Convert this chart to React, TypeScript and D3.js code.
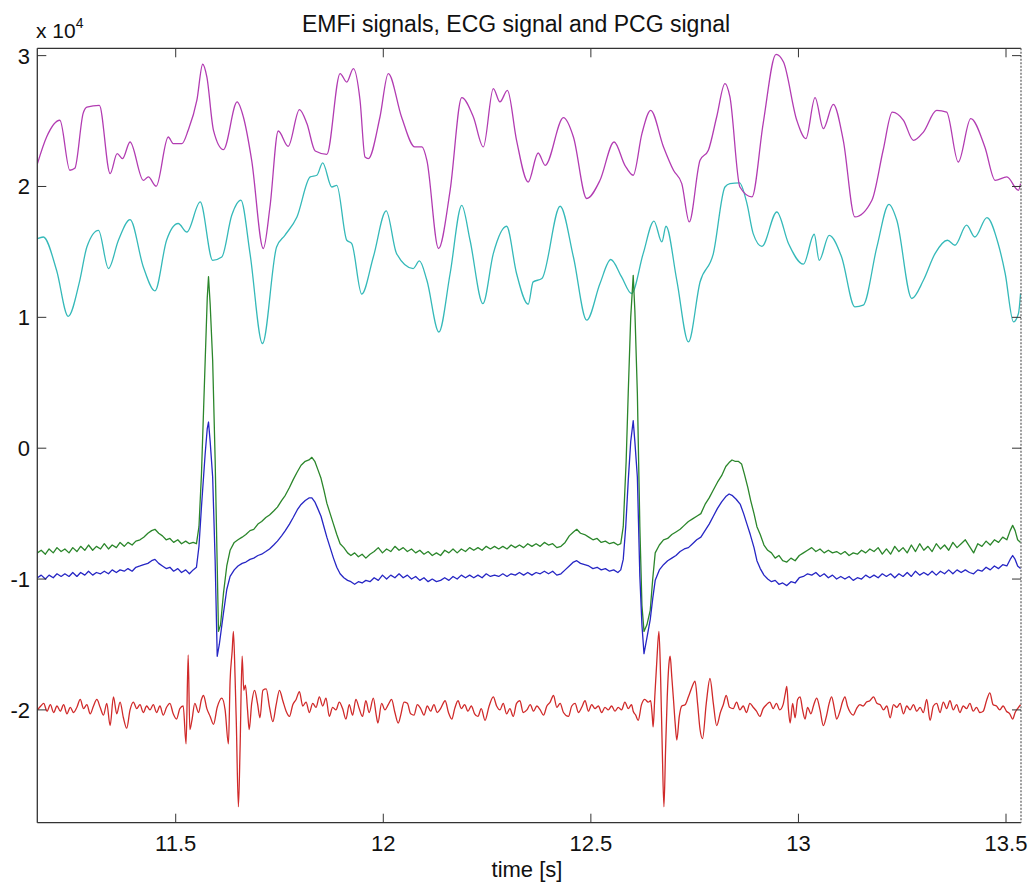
import React from "react";
import * as d3 from "d3";

// ---- data (values in units of 10^4) ----
const TITLE = "EMFi signals, ECG signal and PCG signal";
const X_LABEL = "time [s]";
const TIME_TICKS = [11.5, 12, 12.5, 13, 13.5];
const VALUE_TICKS = [-2, -1, 0, 1, 2, 3];
const TIME_DOMAIN: [number, number] = [11.1666, 13.5361];
const VALUE_DOMAIN: [number, number] = [-2.862, 3.056];

const emfi1: [number, number][] = [
  [11.167, 2.175], [11.189, 2.378], [11.221, 2.506], [11.245, 2.124], [11.257, 2.139], [11.277, 2.559],
  [11.286, 2.607], [11.316, 2.62], [11.342, 2.099], [11.359, 2.251], [11.372, 2.213], [11.39, 2.34],
  [11.422, 2.047], [11.434, 2.073], [11.453, 2.002], [11.482, 2.378], [11.494, 2.328], [11.515, 2.328],
  [11.53, 2.429], [11.551, 2.659], [11.565, 2.934], [11.575, 2.837], [11.591, 2.429], [11.615, 2.282],
  [11.648, 2.646], [11.663, 2.531], [11.683, 2.2], [11.711, 1.526], [11.727, 1.843], [11.747, 2.424],
  [11.771, 2.307], [11.798, 2.588], [11.816, 2.481], [11.836, 2.271], [11.864, 2.246], [11.896, 2.863],
  [11.912, 2.798], [11.928, 2.901], [11.944, 2.659], [11.956, 2.225], [11.964, 2.213], [11.992, 2.531],
  [12.012, 2.863], [12.044, 2.531], [12.076, 2.302], [12.093, 2.302], [12.105, 2.2], [12.133, 1.526],
  [12.161, 1.971], [12.189, 2.679], [12.217, 2.531], [12.241, 2.302], [12.265, 2.748], [12.281, 2.646],
  [12.299, 2.735], [12.321, 2.353], [12.349, 2.034], [12.373, 2.256], [12.39, 2.162], [12.434, 2.526],
  [12.458, 2.378], [12.49, 1.908], [12.522, 2.047], [12.556, 2.34], [12.582, 2.162], [12.602, 2.086],
  [12.623, 2.404], [12.644, 2.582], [12.675, 2.302], [12.699, 2.124], [12.719, 2.022], [12.737, 1.729],
  [12.763, 2.2], [12.783, 2.277], [12.803, 2.531], [12.823, 2.786], [12.835, 2.684], [12.859, 1.996],
  [12.888, 1.92], [12.915, 2.481], [12.946, 3.01], [12.964, 2.951], [12.996, 2.506], [13.018, 2.366],
  [13.04, 2.679], [13.06, 2.442], [13.084, 2.628], [13.108, 2.353], [13.136, 1.767], [13.177, 1.895],
  [13.204, 2.277], [13.226, 2.569], [13.253, 2.506], [13.277, 2.353], [13.301, 2.416], [13.333, 2.582],
  [13.357, 2.569], [13.385, 2.187], [13.415, 2.519], [13.449, 2.302], [13.474, 2.047], [13.502, 2.073],
  [13.53, 1.971], [13.535, 2.022],
];

const emfi2: [number, number][] = [
  [11.167, 1.602], [11.181, 1.614], [11.213, 1.36], [11.241, 1.008], [11.269, 1.283], [11.286, 1.538],
  [11.314, 1.665], [11.338, 1.373], [11.362, 1.589], [11.39, 1.747], [11.422, 1.385], [11.45, 1.202],
  [11.478, 1.589], [11.506, 1.717], [11.527, 1.652], [11.559, 1.882], [11.589, 1.436], [11.611, 1.461],
  [11.635, 1.78], [11.657, 1.895], [11.679, 1.487], [11.709, 0.8], [11.743, 1.538], [11.763, 1.627],
  [11.792, 1.767], [11.824, 2.073], [11.84, 2.086], [11.854, 2.18], [11.876, 1.996], [11.888, 2.009],
  [11.912, 1.589], [11.924, 1.564], [11.948, 1.177], [11.976, 1.461], [12.007, 1.813], [12.032, 1.487],
  [12.072, 1.373], [12.087, 1.431], [12.105, 1.283], [12.134, 0.888], [12.161, 1.335], [12.189, 1.856],
  [12.209, 1.589], [12.24, 1.105], [12.265, 1.487], [12.297, 1.696], [12.321, 1.335], [12.349, 1.1],
  [12.361, 1.271], [12.382, 1.296], [12.426, 1.849], [12.458, 1.461], [12.49, 0.978], [12.522, 1.258],
  [12.548, 1.442], [12.574, 1.309], [12.598, 1.182], [12.626, 1.487], [12.652, 1.736], [12.671, 1.576],
  [12.681, 1.696], [12.707, 1.283], [12.735, 0.812], [12.763, 1.27], [12.795, 1.487], [12.823, 1.996],
  [12.835, 2.022], [12.858, 2.027], [12.876, 1.869], [12.891, 1.64], [12.912, 1.543], [12.948, 1.805],
  [12.976, 1.564], [13.012, 1.406], [13.038, 1.635], [13.05, 1.436], [13.074, 1.627], [13.104, 1.461],
  [13.136, 1.08], [13.156, 1.093], [13.189, 1.538], [13.218, 1.864], [13.237, 1.742], [13.273, 1.144],
  [13.301, 1.283], [13.329, 1.487], [13.359, 1.589], [13.377, 1.551], [13.405, 1.704], [13.425, 1.614],
  [13.454, 1.762], [13.481, 1.564], [13.498, 1.335], [13.518, 0.965], [13.53, 1.029], [13.535, 1.182],
];

const ecgA: [number, number][] = [
  [11.167, -0.8], [11.176, -0.78], [11.186, -0.81], [11.195, -0.77], [11.205, -0.8], [11.214, -0.76],
  [11.224, -0.79], [11.233, -0.77], [11.243, -0.8], [11.252, -0.76], [11.262, -0.79], [11.271, -0.75],
  [11.281, -0.78], [11.29, -0.74], [11.3, -0.78], [11.309, -0.75], [11.319, -0.77], [11.328, -0.73],
  [11.338, -0.77], [11.347, -0.74], [11.357, -0.76], [11.366, -0.72], [11.376, -0.75], [11.385, -0.72],
  [11.395, -0.74], [11.404, -0.71], [11.414, -0.7], [11.423, -0.68], [11.433, -0.65], [11.442, -0.63],
  [11.45, -0.62], [11.459, -0.65], [11.468, -0.67], [11.477, -0.7], [11.486, -0.69], [11.495, -0.72],
  [11.505, -0.7], [11.514, -0.73], [11.524, -0.71], [11.533, -0.73], [11.542, -0.72], [11.55, -0.73],
  [11.556, -0.6], [11.562, -0.2], [11.571, 0.67], [11.576, 1.15], [11.579, 1.31], [11.583, 1.1],
  [11.589, 0.67], [11.595, -0.09], [11.6, -0.9], [11.603, -1.4], [11.608, -1.35], [11.615, -1.11],
  [11.623, -0.9], [11.631, -0.78], [11.641, -0.72], [11.65, -0.7], [11.66, -0.68], [11.669, -0.66],
  [11.679, -0.63], [11.688, -0.62], [11.698, -0.58], [11.707, -0.56], [11.717, -0.53], [11.726, -0.51],
  [11.736, -0.48], [11.745, -0.45], [11.755, -0.4], [11.764, -0.36], [11.774, -0.3], [11.783, -0.24],
  [11.793, -0.18], [11.802, -0.13], [11.812, -0.1], [11.821, -0.09], [11.828, -0.07], [11.835, -0.1],
  [11.842, -0.16], [11.85, -0.23], [11.857, -0.32], [11.864, -0.42], [11.872, -0.5], [11.88, -0.58],
  [11.888, -0.66], [11.896, -0.73], [11.905, -0.76], [11.914, -0.8], [11.922, -0.82], [11.931, -0.8],
  [11.94, -0.83], [11.949, -0.81], [11.958, -0.84], [11.968, -0.81], [11.978, -0.79], [11.988, -0.76],
  [11.998, -0.8], [12.008, -0.77], [12.018, -0.79], [12.028, -0.75], [12.038, -0.78], [12.048, -0.76],
  [12.058, -0.79], [12.068, -0.77], [12.078, -0.8], [12.088, -0.78], [12.098, -0.81], [12.108, -0.79],
  [12.118, -0.82], [12.128, -0.8], [12.138, -0.82], [12.148, -0.78], [12.158, -0.8], [12.168, -0.77],
  [12.178, -0.8], [12.188, -0.77], [12.198, -0.79], [12.208, -0.76], [12.218, -0.78], [12.228, -0.76],
  [12.238, -0.78], [12.248, -0.75], [12.258, -0.77], [12.268, -0.75], [12.278, -0.77], [12.288, -0.75],
  [12.298, -0.77], [12.308, -0.74], [12.318, -0.76], [12.328, -0.74], [12.338, -0.76], [12.348, -0.73],
  [12.358, -0.75], [12.368, -0.73], [12.378, -0.75], [12.388, -0.72], [12.398, -0.74], [12.408, -0.73],
  [12.418, -0.76], [12.428, -0.75], [12.438, -0.72], [12.448, -0.67], [12.458, -0.64], [12.466, -0.62],
  [12.475, -0.65], [12.485, -0.66], [12.495, -0.68], [12.505, -0.7], [12.515, -0.69], [12.525, -0.72],
  [12.535, -0.71], [12.545, -0.73], [12.555, -0.72], [12.565, -0.74], [12.572, -0.73], [12.578, -0.6],
  [12.585, -0.1], [12.59, 0.42], [12.596, 1.0], [12.602, 1.32], [12.606, 1.05], [12.612, 0.42],
  [12.618, -0.6], [12.623, -1.2], [12.628, -1.4], [12.635, -1.35], [12.643, -1.24], [12.649, -1.0],
  [12.655, -0.8], [12.665, -0.74], [12.675, -0.7], [12.685, -0.69], [12.695, -0.66], [12.705, -0.64],
  [12.715, -0.62], [12.725, -0.59], [12.735, -0.56], [12.745, -0.54], [12.755, -0.52], [12.765, -0.5],
  [12.775, -0.43], [12.785, -0.38], [12.795, -0.32], [12.805, -0.26], [12.815, -0.21], [12.825, -0.14],
  [12.833, -0.11], [12.84, -0.09], [12.847, -0.1], [12.855, -0.1], [12.863, -0.12], [12.87, -0.2],
  [12.878, -0.3], [12.885, -0.4], [12.893, -0.5], [12.9, -0.6], [12.908, -0.66], [12.917, -0.74],
  [12.926, -0.78], [12.935, -0.8], [12.944, -0.84], [12.953, -0.82], [12.962, -0.86], [12.972, -0.87],
  [12.982, -0.84], [12.992, -0.86], [13.002, -0.82], [13.012, -0.8], [13.022, -0.78], [13.032, -0.76],
  [13.042, -0.79], [13.052, -0.77], [13.062, -0.8], [13.072, -0.78], [13.082, -0.8], [13.092, -0.79],
  [13.102, -0.81], [13.112, -0.79], [13.122, -0.82], [13.132, -0.8], [13.142, -0.81], [13.152, -0.78],
  [13.162, -0.8], [13.172, -0.77], [13.182, -0.79], [13.192, -0.76], [13.202, -0.81], [13.212, -0.77],
  [13.222, -0.81], [13.232, -0.75], [13.242, -0.79], [13.252, -0.76], [13.262, -0.8], [13.272, -0.74],
  [13.282, -0.79], [13.292, -0.73], [13.302, -0.78], [13.312, -0.75], [13.322, -0.79], [13.332, -0.73],
  [13.342, -0.77], [13.352, -0.74], [13.362, -0.78], [13.372, -0.72], [13.382, -0.76], [13.392, -0.73],
  [13.402, -0.7], [13.412, -0.75], [13.422, -0.8], [13.432, -0.73], [13.442, -0.75], [13.452, -0.71],
  [13.462, -0.74], [13.472, -0.7], [13.482, -0.72], [13.492, -0.68], [13.502, -0.7], [13.51, -0.63],
  [13.516, -0.59], [13.522, -0.63], [13.528, -0.7], [13.535, -0.72],
];

const ecgB: [number, number][] = [
  [11.167, -0.99], [11.176, -0.97], [11.186, -1.0], [11.195, -0.97], [11.205, -0.99], [11.214, -0.96],
  [11.224, -0.98], [11.233, -0.96], [11.243, -0.98], [11.252, -0.95], [11.262, -0.98], [11.271, -0.95],
  [11.281, -0.97], [11.29, -0.94], [11.3, -0.97], [11.309, -0.95], [11.319, -0.96], [11.328, -0.94],
  [11.338, -0.96], [11.347, -0.93], [11.357, -0.95], [11.366, -0.93], [11.376, -0.94], [11.385, -0.92],
  [11.395, -0.94], [11.404, -0.91], [11.414, -0.9], [11.423, -0.89], [11.433, -0.88], [11.442, -0.86],
  [11.45, -0.85], [11.459, -0.88], [11.468, -0.9], [11.477, -0.92], [11.486, -0.91], [11.495, -0.94],
  [11.505, -0.92], [11.514, -0.95], [11.524, -0.93], [11.533, -0.96], [11.542, -0.93], [11.55, -0.91],
  [11.556, -0.75], [11.562, -0.45], [11.571, -0.04], [11.576, 0.15], [11.579, 0.2], [11.583, 0.05],
  [11.589, -0.22], [11.595, -0.86], [11.6, -1.59], [11.605, -1.5], [11.615, -1.26], [11.623, -1.08],
  [11.631, -0.98], [11.641, -0.93], [11.65, -0.9], [11.66, -0.88], [11.669, -0.87], [11.679, -0.85],
  [11.688, -0.84], [11.698, -0.82], [11.707, -0.81], [11.717, -0.79], [11.726, -0.77], [11.736, -0.74],
  [11.745, -0.71], [11.755, -0.67], [11.764, -0.63], [11.774, -0.58], [11.783, -0.53], [11.793, -0.47],
  [11.802, -0.43], [11.812, -0.4], [11.821, -0.38], [11.828, -0.38], [11.835, -0.41], [11.842, -0.46],
  [11.85, -0.52], [11.857, -0.6], [11.864, -0.68], [11.872, -0.76], [11.88, -0.84], [11.888, -0.91],
  [11.896, -0.96], [11.905, -0.99], [11.914, -1.01], [11.922, -1.02], [11.931, -1.04], [11.94, -1.02],
  [11.949, -1.03], [11.958, -1.01], [11.968, -1.02], [11.978, -0.99], [11.988, -1.01], [11.998, -0.97],
  [12.008, -1.0], [12.018, -0.97], [12.028, -0.99], [12.038, -0.96], [12.048, -0.99], [12.058, -0.97],
  [12.068, -1.0], [12.078, -0.98], [12.088, -1.01], [12.098, -0.99], [12.108, -1.02], [12.118, -1.0],
  [12.128, -1.02], [12.138, -1.01], [12.148, -0.99], [12.158, -1.01], [12.168, -0.98], [12.178, -1.0],
  [12.188, -0.97], [12.198, -0.99], [12.208, -0.97], [12.218, -0.99], [12.228, -0.97], [12.238, -0.99],
  [12.248, -0.96], [12.258, -0.98], [12.268, -0.97], [12.278, -0.98], [12.288, -0.96], [12.298, -0.98],
  [12.308, -0.96], [12.318, -0.97], [12.328, -0.95], [12.338, -0.97], [12.348, -0.95], [12.358, -0.97],
  [12.368, -0.95], [12.378, -0.96], [12.388, -0.94], [12.398, -0.96], [12.408, -0.94], [12.418, -0.97],
  [12.428, -0.96], [12.438, -0.93], [12.448, -0.9], [12.458, -0.87], [12.466, -0.86], [12.475, -0.88],
  [12.485, -0.89], [12.495, -0.9], [12.505, -0.92], [12.515, -0.91], [12.525, -0.93], [12.535, -0.92],
  [12.545, -0.94], [12.555, -0.93], [12.565, -0.95], [12.572, -0.93], [12.578, -0.85], [12.584, -0.6],
  [12.59, -0.25], [12.596, 0.05], [12.602, 0.21], [12.606, 0.05], [12.612, -0.22], [12.618, -0.98],
  [12.623, -1.35], [12.628, -1.57], [12.635, -1.45], [12.643, -1.31], [12.649, -1.15], [12.655, -1.01],
  [12.665, -0.93], [12.675, -0.89], [12.685, -0.86], [12.695, -0.84], [12.705, -0.82], [12.715, -0.79],
  [12.725, -0.77], [12.735, -0.76], [12.745, -0.73], [12.755, -0.7], [12.765, -0.68], [12.775, -0.63],
  [12.785, -0.58], [12.795, -0.52], [12.805, -0.46], [12.815, -0.41], [12.825, -0.37], [12.833, -0.35],
  [12.84, -0.36], [12.85, -0.39], [12.86, -0.43], [12.868, -0.5], [12.876, -0.58], [12.884, -0.66],
  [12.893, -0.76], [12.9, -0.86], [12.908, -0.92], [12.917, -0.97], [12.926, -1.0], [12.935, -1.02],
  [12.944, -1.01], [12.953, -1.04], [12.962, -1.03], [12.972, -1.05], [12.982, -1.02], [12.992, -1.03],
  [13.002, -0.99], [13.012, -0.98], [13.022, -0.96], [13.032, -0.97], [13.042, -0.95], [13.052, -0.98],
  [13.062, -0.96], [13.072, -0.99], [13.082, -0.97], [13.092, -1.0], [13.102, -0.98], [13.112, -1.0],
  [13.122, -0.98], [13.132, -1.01], [13.142, -0.99], [13.152, -1.0], [13.162, -0.97], [13.172, -0.99],
  [13.182, -0.97], [13.192, -0.99], [13.202, -0.96], [13.212, -0.98], [13.222, -0.96], [13.232, -0.99],
  [13.242, -0.96], [13.252, -0.98], [13.262, -0.95], [13.272, -0.98], [13.282, -0.94], [13.292, -0.97],
  [13.302, -0.95], [13.312, -0.97], [13.322, -0.94], [13.332, -0.97], [13.342, -0.94], [13.352, -0.96],
  [13.362, -0.93], [13.372, -0.96], [13.382, -0.93], [13.392, -0.95], [13.402, -0.93], [13.412, -0.95],
  [13.422, -0.96], [13.432, -0.93], [13.442, -0.94], [13.452, -0.91], [13.462, -0.93], [13.472, -0.9],
  [13.482, -0.92], [13.492, -0.89], [13.502, -0.9], [13.51, -0.85], [13.516, -0.82], [13.522, -0.85],
  [13.528, -0.9], [13.535, -0.92],
];

const pcg: [number, number][] = [
  [11.167, -2.0], [11.175, -1.97], [11.182, -1.95], [11.19, -2.01], [11.198, -1.96], [11.206, -2.02],
  [11.214, -1.97], [11.222, -2.01], [11.23, -1.96], [11.238, -2.03], [11.246, -1.98], [11.254, -2.02],
  [11.262, -1.98], [11.27, -1.92], [11.278, -1.99], [11.286, -1.96], [11.294, -2.03], [11.302, -1.97],
  [11.31, -1.92], [11.318, -1.98], [11.326, -2.04], [11.334, -1.95], [11.342, -2.12], [11.35, -1.9],
  [11.358, -2.03], [11.366, -1.94], [11.374, -2.06], [11.382, -2.14], [11.39, -2.0], [11.398, -1.94],
  [11.406, -1.99], [11.414, -1.96], [11.422, -2.02], [11.43, -1.97], [11.438, -2.0], [11.446, -1.96],
  [11.454, -2.02], [11.462, -1.97], [11.47, -2.04], [11.478, -1.98], [11.486, -1.95], [11.494, -2.03],
  [11.502, -2.07], [11.51, -1.99], [11.518, -1.97], [11.525, -2.26], [11.53, -1.58], [11.534, -2.15],
  [11.539, -2.08], [11.546, -1.95], [11.555, -2.02], [11.562, -1.92], [11.567, -1.89], [11.575, -1.99],
  [11.583, -2.05], [11.591, -2.11], [11.6, -1.98], [11.611, -1.91], [11.619, -2.0], [11.627, -2.26],
  [11.631, -1.78], [11.636, -1.55], [11.639, -1.4], [11.643, -1.75], [11.646, -2.1], [11.651, -2.74],
  [11.655, -2.3], [11.66, -1.59], [11.664, -1.85], [11.668, -1.81], [11.673, -2.0], [11.677, -2.15],
  [11.683, -1.95], [11.69, -1.85], [11.697, -1.95], [11.703, -2.06], [11.71, -1.85], [11.718, -1.84],
  [11.726, -1.98], [11.734, -2.09], [11.742, -1.96], [11.75, -1.85], [11.758, -1.93], [11.766, -2.01],
  [11.774, -2.05], [11.782, -1.96], [11.79, -1.92], [11.798, -1.86], [11.806, -1.97], [11.814, -1.94],
  [11.822, -2.02], [11.83, -1.95], [11.838, -1.98], [11.846, -1.9], [11.854, -1.97], [11.862, -1.91],
  [11.87, -2.05], [11.878, -1.98], [11.886, -2.0], [11.894, -1.94], [11.902, -1.99], [11.91, -2.07],
  [11.918, -1.96], [11.926, -2.04], [11.934, -1.92], [11.942, -1.99], [11.95, -2.05], [11.958, -1.93],
  [11.966, -2.02], [11.976, -1.91], [11.983, -2.04], [11.987, -2.1], [11.996, -1.95], [12.004, -2.0],
  [12.012, -1.96], [12.02, -1.92], [12.028, -2.02], [12.036, -2.1], [12.042, -2.04], [12.05, -1.94],
  [12.058, -1.95], [12.066, -2.03], [12.074, -2.04], [12.082, -1.96], [12.09, -1.99], [12.098, -2.04],
  [12.106, -1.97], [12.114, -2.01], [12.122, -1.96], [12.13, -2.02], [12.138, -1.99], [12.149, -1.93],
  [12.157, -2.02], [12.165, -2.07], [12.172, -1.99], [12.18, -1.93], [12.188, -1.99], [12.196, -1.96],
  [12.204, -2.01], [12.212, -1.97], [12.22, -2.03], [12.228, -2.05], [12.236, -1.99], [12.245, -2.08],
  [12.255, -1.97], [12.265, -1.9], [12.273, -1.97], [12.281, -2.0], [12.289, -1.95], [12.297, -2.03],
  [12.305, -1.99], [12.313, -2.05], [12.321, -1.95], [12.329, -1.93], [12.337, -2.02], [12.346, -2.0],
  [12.354, -1.96], [12.362, -2.01], [12.37, -1.97], [12.378, -2.0], [12.386, -2.04], [12.394, -1.97],
  [12.402, -1.94], [12.41, -1.89], [12.418, -1.98], [12.426, -1.95], [12.434, -2.02], [12.446, -2.05],
  [12.454, -1.97], [12.462, -1.95], [12.47, -2.02], [12.478, -1.98], [12.486, -1.93], [12.494, -2.01],
  [12.502, -1.96], [12.51, -1.99], [12.518, -1.97], [12.526, -2.02], [12.534, -1.98], [12.542, -2.0],
  [12.55, -1.97], [12.558, -2.01], [12.566, -1.98], [12.574, -2.0], [12.582, -1.94], [12.59, -1.99],
  [12.598, -1.96], [12.602, -2.01], [12.608, -2.04], [12.614, -2.08], [12.622, -1.96], [12.63, -1.92],
  [12.638, -1.94], [12.644, -1.93], [12.648, -2.05], [12.65, -2.13], [12.654, -1.9], [12.659, -1.62],
  [12.664, -1.4], [12.668, -1.75], [12.672, -2.3], [12.676, -2.74], [12.68, -2.3], [12.684, -1.9],
  [12.688, -1.65], [12.691, -1.59], [12.695, -1.75], [12.699, -1.92], [12.703, -2.1], [12.707, -2.23],
  [12.713, -2.05], [12.719, -1.97], [12.727, -1.96], [12.735, -1.9], [12.743, -1.83], [12.751, -1.78],
  [12.757, -1.95], [12.763, -2.15], [12.769, -2.22], [12.778, -1.95], [12.787, -1.76], [12.795, -1.95],
  [12.803, -2.12], [12.812, -2.02], [12.819, -1.96], [12.826, -1.89], [12.834, -1.98], [12.843, -1.99],
  [12.851, -1.94], [12.859, -2.0], [12.867, -1.97], [12.875, -2.02], [12.883, -1.95], [12.891, -1.98],
  [12.899, -2.01], [12.907, -2.05], [12.915, -1.99], [12.923, -1.96], [12.931, -1.94], [12.939, -1.99],
  [12.947, -1.95], [12.955, -2.0], [12.963, -1.96], [12.968, -1.88], [12.972, -1.82], [12.976, -2.0],
  [12.98, -2.1], [12.986, -1.95], [12.992, -2.06], [12.998, -1.92], [13.004, -1.9], [13.01, -2.0],
  [13.016, -2.07], [13.022, -1.98], [13.03, -2.03], [13.037, -1.96], [13.044, -1.91], [13.052, -2.0],
  [13.06, -2.12], [13.068, -2.04], [13.074, -1.95], [13.08, -1.9], [13.086, -1.98], [13.092, -2.07],
  [13.1, -2.01], [13.106, -1.94], [13.112, -1.9], [13.118, -1.97], [13.125, -2.02], [13.132, -2.04],
  [13.14, -1.99], [13.148, -1.96], [13.156, -1.97], [13.164, -1.94], [13.172, -1.93], [13.181, -1.9],
  [13.189, -1.95], [13.197, -1.96], [13.205, -2.0], [13.213, -1.97], [13.221, -2.06], [13.229, -1.96],
  [13.237, -1.98], [13.245, -1.95], [13.253, -2.03], [13.261, -1.97], [13.269, -2.0], [13.277, -1.96],
  [13.285, -2.01], [13.293, -1.98], [13.301, -2.02], [13.309, -1.92], [13.317, -2.08], [13.325, -1.97],
  [13.333, -1.95], [13.341, -2.02], [13.349, -1.94], [13.357, -1.99], [13.365, -1.93], [13.373, -2.0],
  [13.381, -1.96], [13.389, -2.02], [13.397, -1.97], [13.405, -1.99], [13.413, -1.95], [13.421, -2.01],
  [13.429, -1.98], [13.437, -2.02], [13.445, -2.01], [13.453, -1.93], [13.461, -1.87], [13.469, -1.96],
  [13.477, -1.97], [13.485, -2.0], [13.493, -1.97], [13.501, -2.01], [13.509, -2.03], [13.516, -2.07],
  [13.522, -2.02], [13.528, -1.99], [13.535, -1.96],
];

const SERIES = [
  { name: "EMFi 2", data: emfi2, color: "#35b9b9", smooth: true },
  { name: "EMFi 1", data: emfi1, color: "#b23cb2", smooth: true },
  { name: "ECG A", data: ecgA, color: "#2b862b", smooth: false },
  { name: "ECG B", data: ecgB, color: "#2626c4", smooth: false },
  { name: "PCG", data: pcg, color: "#d02a2a", smooth: true },
];

// ---- layout ----
const W = 1032;
const H = 886;
const LEFT = 37.3;
const RIGHT = 1021;
const TOP = 48.3;
const BOTTOM = 822.7;
const FONT = "'Liberation Sans', Arial, sans-serif";
const TICK = 9;

export default function App() {
  const x = d3.scaleLinear().domain(TIME_DOMAIN).range([LEFT, RIGHT]);
  const y = d3.scaleLinear().domain(VALUE_DOMAIN).range([BOTTOM, TOP]);

  const lineLinear = d3
    .line<[number, number]>()
    .x((d) => x(d[0]))
    .y((d) => y(d[1]))
    .curve(d3.curveLinear);
  const lineSmooth = d3
    .line<[number, number]>()
    .x((d) => x(d[0]))
    .y((d) => y(d[1]))
    .curve(d3.curveMonotoneX);

  const axisColor = "#333";

  return (
    <svg
      width={W}
      height={H}
      style={{ position: "absolute", left: 0, top: 0, background: "#fff" }}
      fontFamily={FONT}
    >
      <defs>
        <clipPath id="plotclip">
          <rect x={LEFT} y={TOP} width={RIGHT - LEFT} height={BOTTOM - TOP} />
        </clipPath>
      </defs>
      <rect x={0} y={0} width={W} height={H} fill="#ffffff" />

      <text x={516} y={32} textAnchor="middle" fontSize={23} fill="#111">
        {TITLE}
      </text>

      <g clipPath="url(#plotclip)">
        {SERIES.map((s) => (
          <path
            key={s.name}
            d={(s.smooth ? lineSmooth : lineLinear)(s.data) || ""}
            fill="none"
            stroke={s.color}
            strokeWidth={1.3}
            strokeLinejoin="round"
          />
        ))}
      </g>

      {/* axes box */}
      <line x1={LEFT} x2={RIGHT} y1={TOP} y2={TOP} stroke={axisColor} strokeWidth={1.3} />
      <line x1={LEFT} x2={RIGHT} y1={BOTTOM} y2={BOTTOM} stroke={axisColor} strokeWidth={1.3} />
      <line x1={LEFT} x2={LEFT} y1={TOP} y2={BOTTOM} stroke={axisColor} strokeWidth={1.3} />
      <line
        x1={RIGHT}
        x2={RIGHT}
        y1={TOP}
        y2={BOTTOM}
        stroke="#666"
        strokeWidth={1.3}
        strokeDasharray="2,1.5"
      />

      {/* x ticks */}
      {TIME_TICKS.map((t) => (
        <g key={"xt" + t}>
          <line x1={x(t)} x2={x(t)} y1={BOTTOM} y2={BOTTOM - TICK} stroke={axisColor} strokeWidth={1} />
          <line x1={x(t)} x2={x(t)} y1={TOP} y2={TOP + TICK} stroke={axisColor} strokeWidth={1} />
          <text x={x(t)} y={851} textAnchor="middle" fontSize={22} fill="#111">
            {String(t)}
          </text>
        </g>
      ))}

      {/* y ticks */}
      {VALUE_TICKS.map((v) => (
        <g key={"yt" + v}>
          <line x1={LEFT} x2={LEFT + TICK} y1={y(v)} y2={y(v)} stroke={axisColor} strokeWidth={1} />
          <line x1={RIGHT} x2={RIGHT - TICK} y1={y(v)} y2={y(v)} stroke={axisColor} strokeWidth={1} />
          <text x={30} y={y(v) + 8} textAnchor="end" fontSize={22} fill="#111">
            {String(v)}
          </text>
        </g>
      ))}

      {/* exponent label */}
      <text x={36} y={38} fontSize={21} fill="#111">
        x 10
        <tspan fontSize={14} dy={-10}>
          4
        </tspan>
      </text>

      <text x={527} y={877} textAnchor="middle" fontSize={22} fill="#111">
        {X_LABEL}
      </text>
    </svg>
  );
}
